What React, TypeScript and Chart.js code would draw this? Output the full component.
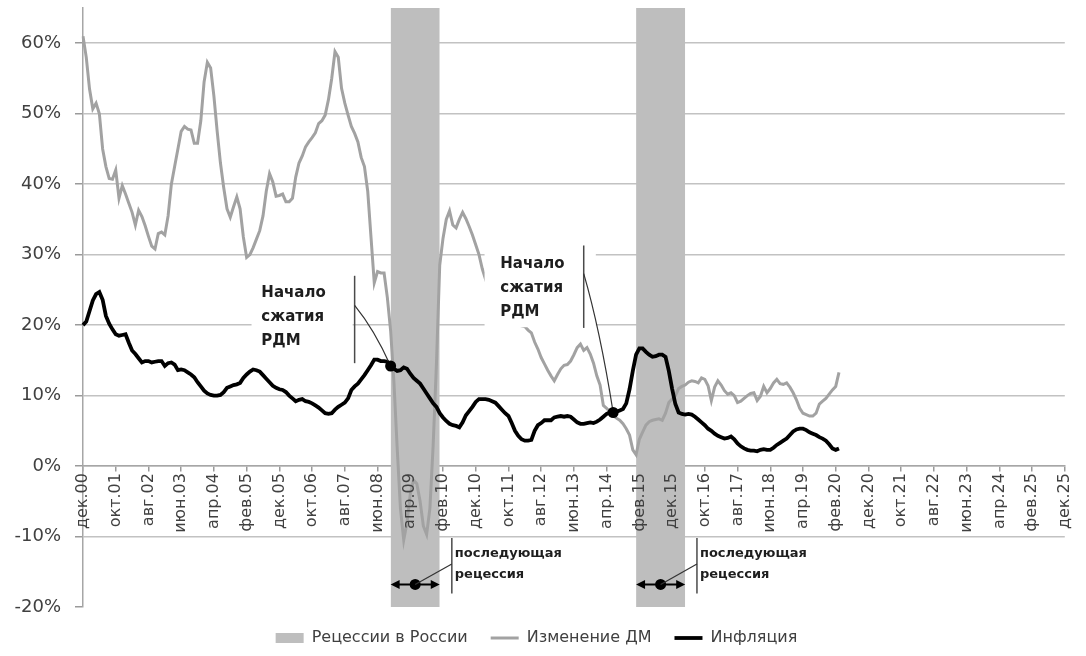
import React, { useEffect, useRef } from 'react';
import { Chart, registerables } from 'chart.js';

Chart.register(...registerables);

const FONT = '"DejaVu Sans", "Open Sans", sans-serif';

// x axis: monthly categories, Dec 2000 .. Dec 2025
const MONTHS = ['дек', 'янв', 'фев', 'мар', 'апр', 'май', 'июн', 'июл', 'авг', 'сен', 'окт', 'ноя'];
const MONTH_COUNT = 301;
const TICK_EVERY = 10;
const CATEGORIES = Array.from(
  { length: MONTH_COUNT },
  (_, m) => `${MONTHS[m % 12]}.${String(Math.floor((m + 11) / 12)).padStart(2, '0')}`
);

// y axis
const Y_MIN = -20;
const Y_MAX = 65;
const Y_STEP = 10;

// Recession periods (month index from Dec 2000: start, end)
const RECESSIONS: [number, number][] = [
  [94, 109],
  [169, 184],
];

// Изменение ДМ, % (monthly, from Dec 2000)
const MONEY_CHANGE = [
  61, 58, 53.5, 50.7, 51.5, 50, 45, 42.5, 40.8, 40.7, 42, 38,
  39.8, 38.6, 37.3, 36, 34.2, 36.3, 35.4, 34.1, 32.6, 31.2, 30.8, 33,
  33.2, 32.8, 35.5, 40, 42.5, 45, 47.5, 48.2, 47.8, 47.7, 45.8, 45.8,
  49, 54.5, 57.3, 56.5, 52.5, 47.5, 43, 39.5, 36.5, 35.3, 36.8, 38.2,
  36.5, 32.5, 29.6, 30, 31, 32.2, 33.4, 35.5, 39, 41.5, 40.3, 38.3,
  38.4, 38.6, 37.5, 37.5, 38, 41, 43, 44, 45.3, 46, 46.6, 47.3,
  48.6, 49, 49.8, 52, 55, 58.8, 58, 53.6, 51.5, 49.8, 48.2, 47.2,
  46, 43.8, 42.5, 39, 32.5, 26, 27.6, 27.4, 27.4, 23.9, 19.2, 12,
  2.6, -6, -10.5, -8, -4, -2, -2.5, -5, -8.5, -9.7, -6, 3,
  14.5, 28.5, 32.3, 35, 36.2, 34.2, 33.8, 35, 36, 35.1, 34, 32.8,
  31.4, 30, 28, 26.5, 25.2, 24, 23, 22.2, 21.5, 21, 20.4, 20.2,
  20.1, 20, 19.9, 19.8, 19.3, 18.9, 17.6, 16.6, 15.4, 14.5, 13.6, 12.8,
  12.1, 13, 13.8, 14.3, 14.4, 14.9, 15.8, 16.8, 17.3, 16.4, 16.8, 15.9,
  14.6, 12.8, 11.5, 8.6, 8.2, 7.7, 7.2, 6.8, 6.5, 6, 5.3, 4.4,
  2.3, 1.6, 3.8, 4.8, 5.8, 6.3, 6.5, 6.6, 6.7, 6.5, 7.5, 9,
  9.5, 10, 11, 11.3, 11.5, 11.9, 12.1, 12, 11.8, 12.5, 12.3, 11.4,
  9.3, 11.2, 12.1, 11.5, 10.7, 10.2, 10.4, 10, 9, 9.2, 9.6, 10,
  10.3, 10.4, 9.3, 9.9, 11.3, 10.4, 11, 11.8, 12.3, 11.7, 11.6, 11.8,
  11.2, 10.4, 9.4, 8.2, 7.5, 7.3, 7.1, 7.1, 7.5, 8.8, 9.2, 9.6,
  10.2, 10.8, 11.3, 13.3,
];

// Инфляция, % (monthly, from Dec 2000)
const INFLATION = [
  20, 20.5, 22, 23.5, 24.4, 24.7, 23.6, 21.3, 20.2, 19.4, 18.7, 18.5,
  18.6, 18.7, 17.5, 16.4, 15.9, 15.3, 14.7, 14.9, 14.9, 14.7, 14.8, 14.9,
  14.9, 14.2, 14.6, 14.7, 14.4, 13.6, 13.7, 13.6, 13.3, 13, 12.6, 11.9,
  11.3, 10.7, 10.3, 10.1, 10, 10, 10.1, 10.5, 11.1, 11.3, 11.5, 11.6,
  11.8, 12.5, 13, 13.4, 13.7, 13.6, 13.4, 12.9, 12.4, 11.9, 11.4, 11.1,
  10.9, 10.8, 10.5, 10, 9.6, 9.2, 9.4, 9.5, 9.2, 9.1, 8.9, 8.6,
  8.3, 7.9, 7.5, 7.4, 7.5, 8, 8.4, 8.7, 9, 9.6, 10.8, 11.3,
  11.7, 12.3, 12.9, 13.6, 14.3, 15.1, 15.1, 14.9, 14.9, 14.8, 14.2, 13.8,
  13.5, 13.6, 14, 13.8, 13.1, 12.5, 12.1, 11.7, 11, 10.3, 9.6, 8.9,
  8.4, 7.5, 6.9, 6.4, 6, 5.8, 5.7, 5.5, 6.2, 7.2, 7.8, 8.4,
  9.1, 9.5, 9.5, 9.5, 9.4, 9.2, 9, 8.5, 8, 7.5, 7.1, 6.1,
  5, 4.3, 3.8, 3.6, 3.6, 3.7, 5, 5.8, 6.1, 6.5, 6.5, 6.5,
  6.9, 7, 7.1, 7, 7.1, 7, 6.6, 6.2, 6, 6, 6.1, 6.2,
  6.1, 6.3, 6.6, 7, 7.4, 7.6, 7.6, 7.7, 7.9, 8.1, 8.9, 10.9,
  13.5, 15.8, 16.7, 16.7, 16.2, 15.8, 15.5, 15.6, 15.8, 15.8, 15.5, 13.5,
  11, 8.8, 7.6, 7.4, 7.3, 7.4, 7.3, 7, 6.6, 6.2, 5.8, 5.3,
  5, 4.6, 4.3, 4.1, 3.9, 4, 4.2, 3.8, 3.2, 2.8, 2.5, 2.3,
  2.2, 2.2, 2.1, 2.3, 2.4, 2.3, 2.3, 2.6, 3, 3.3, 3.6, 3.9,
  4.4, 4.9, 5.2, 5.3, 5.3, 5.1, 4.8, 4.6, 4.4, 4.1, 3.9, 3.6,
  3.1, 2.5, 2.3, 2.5,
];

const SERIES_LABELS = ['Рецессии в России', 'Изменение ДМ', 'Инфляция'];

// Annotations (anchors in data units: month index, percent)
const START_TEXT = ['Начало', 'сжатия', 'РДМ'];
const START_NOTES = [
  { textM: 54.5, textV: 24.5, lineM: 83, lineTop: 27, lineBottom: 14.6, leaderV: 22.8, dotM: 94, box: [51.5, 82.4, 27.5, 15.2] },
  { textM: 127.5, textV: 28.6, lineM: 153, lineTop: 31.3, lineBottom: 19.6, leaderV: 27.3, dotM: 162, box: [122.7, 156.7, 32, 19.7] },
];
const RECESSION_TEXT = ['последующая', 'рецессия'];
const RECESSION_NOTES = [
  { textM: 113.6, lineM: 112.7, range: RECESSIONS[0] },
  { textM: 188.5, lineM: 187.6, range: RECESSIONS[1] },
];
const REC_TEXT_V = [-12.4, -15.4];
const REC_LINE_V = [-10.2, -18.1];
const REC_ARROW_V = -16.8;
const REC_LEADER_V = -13.9;

const annotationPlugin = {
  id: 'rdmAnnotations',
  afterDatasetsDraw(chart: any) {
    const { ctx } = chart;
    const xs = chart.scales.x;
    const ys = chart.scales.y;
    const px = (m: number) => xs.getPixelForValue(m);
    const py = (v: number) => ys.getPixelForValue(v);
    ctx.save();

    // "Начало сжатия РДМ"
    for (const n of START_NOTES) {
      const [m0, m1, v0, v1] = n.box;
      ctx.fillStyle = '#ffffff';
      ctx.fillRect(px(m0), py(v0), px(m1) - px(m0), py(v1) - py(v0));
      ctx.fillStyle = '#1e1e1e';
      ctx.font = `bold 15px ${FONT}`;
      ctx.textAlign = 'left';
      ctx.textBaseline = 'middle';
      START_TEXT.forEach((t, i) => ctx.fillText(t, px(n.textM), py(n.textV) + i * 24));

      ctx.strokeStyle = '#4a4a4a';
      ctx.lineWidth = 1.5;
      ctx.beginPath();
      ctx.moveTo(px(n.lineM), py(n.lineTop));
      ctx.lineTo(px(n.lineM), py(n.lineBottom));
      ctx.stroke();

      const lx = px(n.lineM);
      const ly = py(n.leaderV);
      const dx = px(n.dotM);
      const dy = py(INFLATION[n.dotM]);
      ctx.strokeStyle = '#333333';
      ctx.lineWidth = 1.2;
      ctx.beginPath();
      ctx.moveTo(lx, ly);
      ctx.quadraticCurveTo(lx + (dx - lx) * 0.55, ly + (dy - ly) * 0.4, dx, dy);
      ctx.stroke();

      ctx.fillStyle = '#000000';
      ctx.beginPath();
      ctx.arc(dx, dy, 5.5, 0, Math.PI * 2);
      ctx.fill();
    }

    // "последующая рецессия"
    for (const n of RECESSION_NOTES) {
      ctx.fillStyle = '#1e1e1e';
      ctx.font = `bold 13px ${FONT}`;
      ctx.textAlign = 'left';
      ctx.textBaseline = 'middle';
      RECESSION_TEXT.forEach((t, i) => ctx.fillText(t, px(n.textM), py(REC_TEXT_V[i])));

      ctx.strokeStyle = '#4a4a4a';
      ctx.lineWidth = 1.5;
      ctx.beginPath();
      ctx.moveTo(px(n.lineM), py(REC_LINE_V[0]));
      ctx.lineTo(px(n.lineM), py(REC_LINE_V[1]));
      ctx.stroke();

      const ax0 = px(n.range[0]);
      const ax1 = px(n.range[1]);
      const ay = py(REC_ARROW_V);
      ctx.strokeStyle = '#000000';
      ctx.fillStyle = '#000000';
      ctx.lineWidth = 2;
      ctx.beginPath();
      ctx.moveTo(ax0 + 3, ay);
      ctx.lineTo(ax1 - 3, ay);
      ctx.stroke();
      for (const [x, dir] of [[ax0, -1], [ax1, 1]]) {
        ctx.beginPath();
        ctx.moveTo(x, ay);
        ctx.lineTo(x - dir * 9, ay - 4.5);
        ctx.lineTo(x - dir * 9, ay + 4.5);
        ctx.closePath();
        ctx.fill();
      }
      const cx = px((n.range[0] + n.range[1]) / 2);
      ctx.beginPath();
      ctx.arc(cx, ay, 5.5, 0, Math.PI * 2);
      ctx.fill();

      ctx.strokeStyle = '#333333';
      ctx.lineWidth = 1.2;
      ctx.beginPath();
      ctx.moveTo(cx, ay);
      ctx.lineTo(px(n.lineM), py(REC_LEADER_V));
      ctx.stroke();
    }
    ctx.restore();
  },
};

export default function App() {
  const ref = useRef<HTMLCanvasElement | null>(null);

  useEffect(() => {
    if (!ref.current) return;
    const recessionData = CATEGORIES.map((_, m) =>
      RECESSIONS.some(([a, b]) => m >= a && m <= b) ? Y_MAX : null
    );

    const chart = new Chart(ref.current, {
      type: 'line',
      data: {
        labels: CATEGORIES,
        datasets: [
          {
            label: SERIES_LABELS[0],
            data: recessionData,
            borderColor: 'transparent',
            borderWidth: 0,
            backgroundColor: '#bebebe',
            fill: { value: Y_MIN },
            pointRadius: 0,
            pointStyle: 'rect',
            pointBackgroundColor: '#bebebe',
            pointBorderWidth: 0,
            spanGaps: false,
            order: 3,
          },
          {
            label: SERIES_LABELS[1],
            data: MONEY_CHANGE,
            borderColor: '#a2a2a2',
            borderWidth: 3,
            backgroundColor: '#a2a2a2',
            fill: false,
            tension: 0,
            pointRadius: 0,
            pointStyle: 'line',
            pointBorderColor: '#a2a2a2',
            pointBorderWidth: 3,
            order: 2,
          },
          {
            label: SERIES_LABELS[2],
            data: INFLATION,
            borderColor: '#000000',
            borderWidth: 3.8,
            backgroundColor: '#000000',
            fill: false,
            tension: 0,
            pointRadius: 0,
            pointStyle: 'line',
            pointBorderColor: '#000000',
            pointBorderWidth: 3.8,
            order: 1,
          },
        ],
      } as any,
      options: {
        responsive: false,
        animation: false,
        events: [],
        devicePixelRatio: 1,
        layout: { padding: { left: 0, top: 8, right: 13, bottom: 0 } },
        scales: {
          x: {
            type: 'category',
            position: { y: 0 } as any,
            offset: false,
            afterBuildTicks: (scale: any) => {
              scale.ticks = scale.ticks.filter((t: any) => t.value % TICK_EVERY === 0);
            },
            grid: {
              display: true,
              drawOnChartArea: false,
              drawTicks: true,
              tickLength: 5,
              color: '#9a9a9a',
              lineWidth: 1.5,
            },
            border: { display: true, color: '#a6a6a6', width: 1.5 },
            ticks: {
              autoSkip: false,
              minRotation: 90,
              maxRotation: 90,
              padding: 2,
              color: '#404040',
              font: { family: FONT, size: 16 },
              z: 1,
            } as any,
          },
          y: {
            type: 'linear',
            min: Y_MIN,
            max: Y_MAX,
            bounds: 'data',
            afterBuildTicks: (scale: any) => {
              scale.ticks = scale.ticks.filter((t: any) => t.value <= 60);
            },
            afterFit: (scale: any) => {
              scale.width = 83;
              scale.paddingTop = 0;
              scale.paddingBottom = 0;
            },
            ticks: {
              stepSize: Y_STEP,
              includeBounds: false,
              padding: 14,
              color: '#404040',
              font: { family: FONT, size: 18 },
              callback: (v: any) => `${v}%`,
            },
            grid: {
              color: (c: any) => (c.tick && c.tick.value === Y_MIN ? 'rgba(0,0,0,0)' : '#c2c2c2'),
              lineWidth: 1.5,
              drawTicks: true,
              tickLength: 8,
              tickColor: '#9a9a9a',
            },
            border: { display: true, color: '#a6a6a6', width: 1.5 },
          },
        },
        plugins: {
          tooltip: { enabled: false },
          legend: {
            display: true,
            position: 'bottom',
            labels: {
              usePointStyle: true,
              pointStyleWidth: 28,
              boxHeight: 10,
              padding: 23,
              color: '#404040',
              font: { family: FONT, size: 16 },
              sort: (a: any, b: any) => a.datasetIndex - b.datasetIndex,
            },
          },
        },
      } as any,
      plugins: [annotationPlugin],
    });

    return () => chart.destroy();
  }, []);

  return (
    <div style={{ position: 'absolute', left: 0, top: 0, width: 1086, height: 656, background: '#fff' }}>
      <canvas ref={ref} width={1086} height={656} style={{ display: 'block' }} />
    </div>
  );
}
